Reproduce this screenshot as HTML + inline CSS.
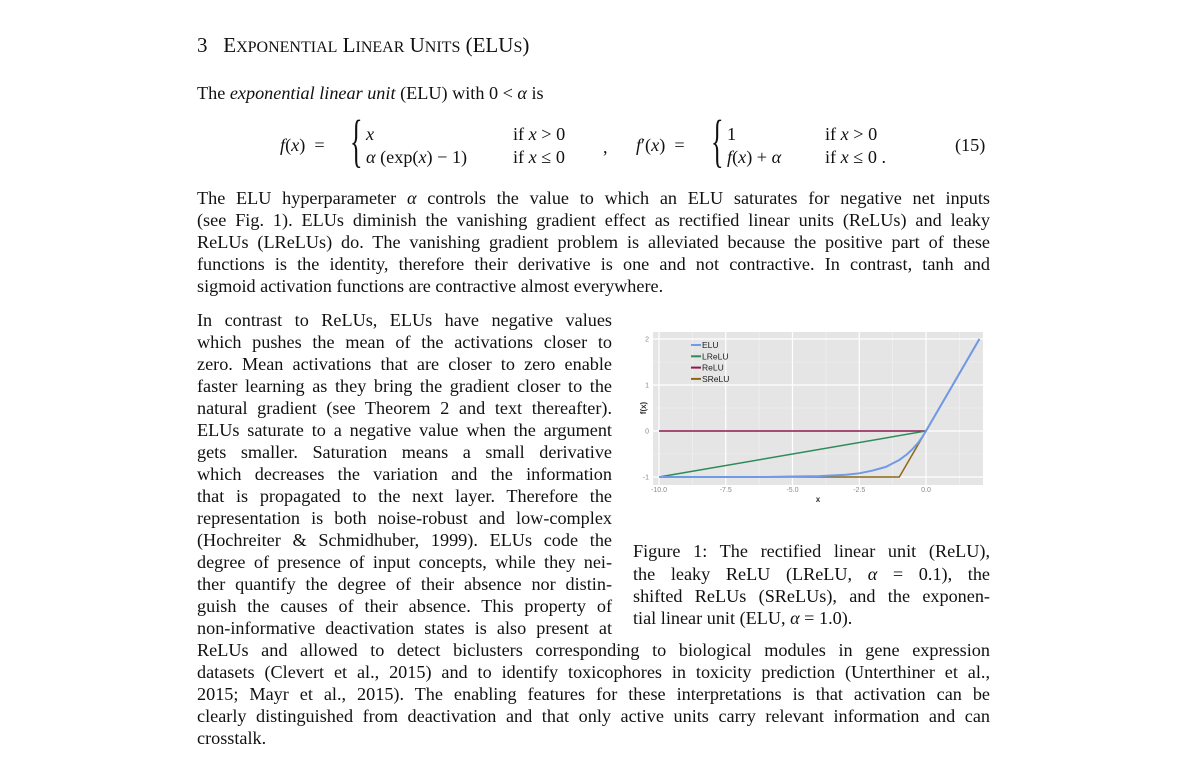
<!DOCTYPE html>
<html><head><meta charset="utf-8">
<style>
body{margin:0;background:#fff;width:1187px;height:772px;position:relative;overflow:hidden;font-family:"Liberation Serif",serif;color:#111}
.l{position:absolute;font-size:18.2px;line-height:22px;white-space:nowrap;text-align:justify;text-align-last:justify}
.c{position:absolute;font-size:18.2px;line-height:22px;white-space:nowrap}
i{font-style:italic}
</style></head><body>
<div class="c" style="left:197px;top:32px;font-size:21px;line-height:26px">3&nbsp;&nbsp;&nbsp;E<span style="font-size:16px">XPONENTIAL</span> L<span style="font-size:16px">INEAR</span> U<span style="font-size:16px">NITS</span> (ELU<span style="font-size:16px">S</span>)</div>
<div class="c" style="left:197px;top:82px">The <i>exponential linear unit</i> (ELU) with 0 &lt; <i>α</i> is</div>
<div style="position:absolute;left:0;top:0">
<div class="c" style="left:280px;top:134px"><i>f</i>(<i>x</i>) &nbsp;=</div>
<div class="c" style="left:350px;top:116px;font-size:58px;line-height:50px;transform:scaleX(0.45);transform-origin:left">{</div>
<div class="c" style="left:366px;top:123px"><i>x</i></div>
<div class="c" style="left:513px;top:123px">if <i>x</i> &gt; 0</div>
<div class="c" style="left:366px;top:146px"><i>α</i> (exp(<i>x</i>) − 1)</div>
<div class="c" style="left:513px;top:146px">if <i>x</i> ≤ 0</div>
<div class="c" style="left:603px;top:136px">,</div>
<div class="c" style="left:636px;top:134px"><i>f</i>′(<i>x</i>) &nbsp;=</div>
<div class="c" style="left:711px;top:116px;font-size:58px;line-height:50px;transform:scaleX(0.45);transform-origin:left">{</div>
<div class="c" style="left:727px;top:123px">1</div>
<div class="c" style="left:825px;top:123px">if <i>x</i> &gt; 0</div>
<div class="c" style="left:727px;top:146px"><i>f</i>(<i>x</i>) + <i>α</i></div>
<div class="c" style="left:825px;top:146px">if <i>x</i> ≤ 0&nbsp;.</div>
<div class="c" style="left:955px;top:134px">(15)</div>
</div>
<div>
<div class="l" style="left:197px;top:187px;width:793px">The ELU hyperparameter <i>α</i> controls the value to which an ELU saturates for negative net inputs</div>
<div class="l" style="left:197px;top:209px;width:793px">(see Fig. 1). ELUs diminish the vanishing gradient effect as rectified linear units (ReLUs) and leaky</div>
<div class="l" style="left:197px;top:231px;width:793px">ReLUs (LReLUs) do. The vanishing gradient problem is alleviated because the positive part of these</div>
<div class="l" style="left:197px;top:253px;width:793px">functions is the identity, therefore their derivative is one and not contractive. In contrast, tanh and</div>
<div class="c" style="left:197px;top:275px">sigmoid activation functions are contractive almost everywhere.</div>
</div>
<div>
<div class="l" style="left:197px;top:309px;width:415px">In contrast to ReLUs, ELUs have negative values</div>
<div class="l" style="left:197px;top:331px;width:415px">which pushes the mean of the activations closer to</div>
<div class="l" style="left:197px;top:353px;width:415px">zero. Mean activations that are closer to zero enable</div>
<div class="l" style="left:197px;top:375px;width:415px">faster learning as they bring the gradient closer to the</div>
<div class="l" style="left:197px;top:397px;width:415px">natural gradient (see Theorem 2 and text thereafter).</div>
<div class="l" style="left:197px;top:419px;width:415px">ELUs saturate to a negative value when the argument</div>
<div class="l" style="left:197px;top:441px;width:415px">gets smaller. Saturation means a small derivative</div>
<div class="l" style="left:197px;top:463px;width:415px">which decreases the variation and the information</div>
<div class="l" style="left:197px;top:485px;width:415px">that is propagated to the next layer. Therefore the</div>
<div class="l" style="left:197px;top:507px;width:415px">representation is both noise-robust and low-complex</div>
<div class="l" style="left:197px;top:529px;width:415px">(Hochreiter &amp; Schmidhuber, 1999). ELUs code the</div>
<div class="l" style="left:197px;top:551px;width:415px">degree of presence of input concepts, while they nei-</div>
<div class="l" style="left:197px;top:573px;width:415px">ther quantify the degree of their absence nor distin-</div>
<div class="l" style="left:197px;top:595px;width:415px">guish the causes of their absence. This property of</div>
<div class="l" style="left:197px;top:617px;width:415px">non-informative deactivation states is also present at</div>
<div class="l" style="left:197px;top:639px;width:793px">ReLUs and allowed to detect biclusters corresponding to biological modules in gene expression</div>
<div class="l" style="left:197px;top:661px;width:793px">datasets (Clevert et al., 2015) and to identify toxicophores in toxicity prediction (Unterthiner et al.,</div>
<div class="l" style="left:197px;top:683px;width:793px">2015; Mayr et al., 2015). The enabling features for these interpretations is that activation can be</div>
<div class="l" style="left:197px;top:705px;width:793px">clearly distinguished from deactivation and that only active units carry relevant information and can</div>
<div class="c" style="left:197px;top:727px">crosstalk.</div>
</div>
<div>
<div class="l" style="left:633px;top:540px;width:357px">Figure 1: The rectified linear unit (ReLU),</div>
<div class="l" style="left:633px;top:563px;width:357px">the leaky ReLU (LReLU, <i>α</i> = 0.1), the</div>
<div class="l" style="left:633px;top:585px;width:357px">shifted ReLUs (SReLUs), and the exponen-</div>
<div class="c" style="left:633px;top:607px">tial linear unit (ELU, <i>α</i> = 1.0).</div>
</div>
<svg id="chart" style="position:absolute;left:0;top:0" width="1187" height="772"></svg>
<script>
const eluX=[-10,-6,-5,-4,-3,-2.5,-2,-1.5,-1,-0.7,-0.5,-0.3,-0.15,0,2];
const eluY=[-1,-1,-0.99,-0.98,-0.95,-0.92,-0.86,-0.78,-0.63,-0.5,-0.39,-0.26,-0.14,0,2];
const lreluX=[-10,0,2];
const lreluY=[-1,0,2];
const reluX=[-10,0,2];
const reluY=[0,0,2];
const sreluX=[-10,-1,0,2];
const sreluY=[-1,-1,0,2];
const xTicks=[-10,-7.5,-5,-2.5,0];
const xTickLabels=["-10.0","-7.5","-5.0","-2.5","0.0"];
const yTicks=[-1,0,1,2];
const yTickLabels=["-1","0","1","2"];
const seriesNames=["ELU","LReLU","ReLU","SReLU"];
const NS="http://www.w3.org/2000/svg";
const svg=document.getElementById('chart');
const L=653,R=983,T=332,B=485;
const sx=v=>659+(v+10)*26.7;
const sy=v=>431-v*46;
function mk(t,a,p){const e=document.createElementNS(NS,t);for(const k in a)e.setAttribute(k,a[k]);(p||svg).appendChild(e);return e;}
const bg=mk('rect',{x:L,y:T,width:R-L,height:B-T,fill:'#e5e5e5'});


for(let i=0;i<xTicks.length;i++){
  const v=xTicks[i];
  const g=mk('line',{x1:sx(v),x2:sx(v),y1:T,y2:B,stroke:'#fff','stroke-width':1.2});
  
  
  const gm=mk('line',{x1:sx(v+1.25),x2:sx(v+1.25),y1:T,y2:B,stroke:'#f2f2f2','stroke-width':0.6});
  
  
  const t=mk('text',{x:sx(v),y:B+7,'font-size':7,fill:'#888','text-anchor':'middle','font-family':'Liberation Sans, sans-serif'});
  t.textContent=xTickLabels[i];
  
  
}
for(let i=0;i<yTicks.length;i++){
  const v=yTicks[i];
  const g=mk('line',{x1:L,x2:R,y1:sy(v),y2:sy(v),stroke:'#fff','stroke-width':1.2});
  
  
  if(v<2){const gm=mk('line',{x1:L,x2:R,y1:sy(v+0.5),y2:sy(v+0.5),stroke:'#f2f2f2','stroke-width':0.6});
  
  }
  const t=mk('text',{x:L-4,y:sy(v)+2.5,'font-size':7,fill:'#888','text-anchor':'end','font-family':'Liberation Sans, sans-serif'});
  t.textContent=yTickLabels[i];
  
  
}
const series=[[reluX,reluY,'#8b1a4a','relu-line'],[lreluX,lreluY,'#2e8b57','lrelu-line'],[sreluX,sreluY,'#8b6914','srelu-line'],[eluX,eluY,'#6f9ae8','elu-line']];
for(const s of series){
  const pts=s[0].map((x,i)=>sx(x)+','+sy(s[1][i])).join(' ');
  const p=mk('polyline',{points:pts,fill:'none',stroke:s[2],'stroke-width':s[3]==='elu-line'?2:1.5});
  
  
}
const legColors=['#6f9ae8','#2e8b57','#8b1a4a','#8b6914'];
for(let i=0;i<seriesNames.length;i++){
  const y=345+i*11.3;
  const ln=mk('line',{x1:691,x2:701,y1:y,y2:y,stroke:legColors[i],'stroke-width':2});
  
  
  const t=mk('text',{x:702,y:y+3,'font-size':8.5,fill:'#222','font-family':'Liberation Sans, sans-serif'});
  t.textContent=seriesNames[i];
  
  
}
const xl=mk('text',{x:818,y:502,'font-size':8,fill:'#333','text-anchor':'middle','font-family':'Liberation Sans, sans-serif','font-weight':'bold'});
xl.textContent='x';


const yl=mk('text',{x:0,y:0,'font-size':8,fill:'#333','text-anchor':'middle','font-family':'Liberation Sans, sans-serif','font-weight':'bold',transform:'translate(646,408) rotate(-90)'});
yl.textContent='f(x)';


</script>
</body></html>
